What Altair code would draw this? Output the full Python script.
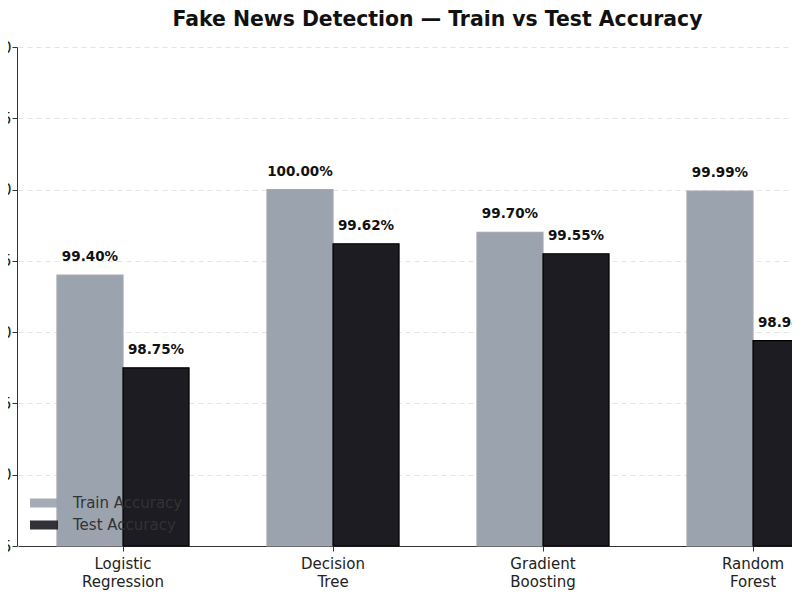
import altair as alt
import pandas as pd

models = ["Logistic Regression", "Decision Tree", "Gradient Boosting", "Random Forest"]
train_acc = [99.40, 100.00, 99.70, 99.99]
test_acc = [98.75, 99.62, 99.55, 98.94]
series = ["Train Accuracy", "Test Accuracy"]
y_ticks = [97.5, 98.0, 98.5, 99.0, 99.5, 100.0, 100.5, 101.0]

TRAIN = "#9ba3ae"
TEST = "#1c1c22"
FONT = "DejaVu Sans"

df = pd.concat([
    pd.DataFrame({"Model": models, "Set": series[0], "Acc": train_acc}),
    pd.DataFrame({"Model": models, "Set": series[1], "Acc": test_acc}),
])
df["Label"] = df["Acc"].map(lambda v: f"{v:.2f}%")

# plot area runs past the right edge of the page, as in the reference
x_enc = alt.X("Model:N", sort=models, title=None,
              scale=alt.Scale(range=[1, 841], paddingInner=0, paddingOuter=0),
              axis=alt.Axis(labelAngle=0, labelFontSize=15, labelColor="#222",
                            labelExpr="split(datum.label, ' ')", labelLineHeight=18,
                            labelPadding=5, tickSize=5, tickColor="#333",
                            domainColor="#333", labelFont=FONT))
off_enc = alt.XOffset("Set:N", sort=series,
                      scale=alt.Scale(paddingOuter=0.59, paddingInner=0))
y_enc = alt.Y("Acc:Q", title=None,
              scale=alt.Scale(domain=[y_ticks[0], y_ticks[-1]], zero=False, nice=False),
              axis=alt.Axis(values=y_ticks, format=".1f", labelFontSize=15,
                            labelColor="#222", labelPadding=1, tickSize=5,
                            tickColor="#333", domainColor="#333", gridColor="#e4e4e8",
                            gridDash=[5, 4], labelFont=FONT))
color_enc = alt.Color("Set:N", sort=series,
                      scale=alt.Scale(domain=series, range=[TRAIN, TEST]),
                      legend=alt.Legend(orient="none", legendX=17, legendY=446,
                                        title=None, labelFontSize=15, labelColor="#333",
                                        labelFont=FONT,
                                        symbolType="M-1.4,-0.45L1.4,-0.45L1.4,0.45L-1.4,0.45Z",
                                        symbolSize=400, symbolStrokeWidth=0,
                                        labelOffset=19, rowPadding=4, symbolOpacity=0.9))

base = alt.Chart(df).encode(x=x_enc, xOffset=off_enc, y=y_enc)

bars = base.mark_bar(strokeWidth=1.2).encode(
    y2=alt.Y2Datum(y_ticks[0]),
    color=color_enc,
    stroke=alt.Stroke("Set:N", scale=alt.Scale(domain=series, range=["#a8a8b0", "#000000"]),
                      legend=None),
)
labels = base.mark_text(dy=-14, baseline="alphabetic", fontSize=13.5, fontWeight="bold",
                        font=FONT, color="#111").encode(text="Label:N")

chart = (bars + labels).properties(
    width=775, height=499,
    autosize=alt.AutoSizeParams(type="none"),
    padding={"left": 9, "top": 39, "right": 0, "bottom": 46},
    title=alt.TitleParams("Fake News Detection — Train vs Test Accuracy", fontSize=20.4,
                          fontWeight="bold", font=FONT, color="#111", anchor="middle",
                          dx=33, offset=10),
).configure_view(stroke=None).configure_axis(grid=False).configure_axisY(grid=True)

chart.save("out.html", embed_options={"renderer": "svg", "actions": False})
